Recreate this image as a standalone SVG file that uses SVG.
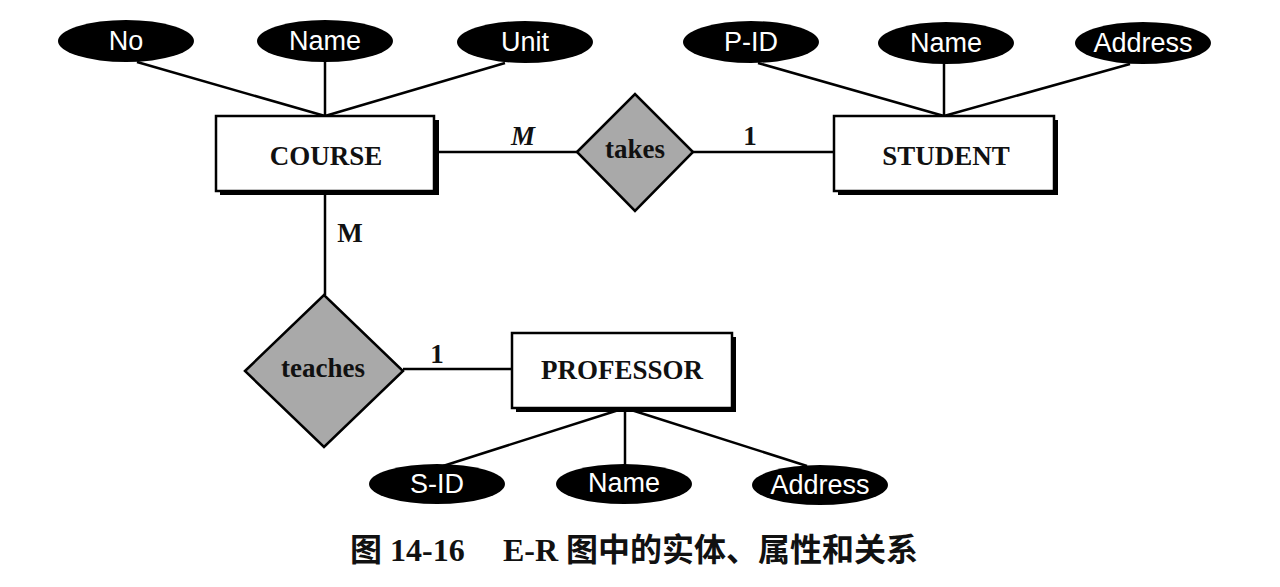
<svg xmlns="http://www.w3.org/2000/svg" width="1280" height="587" viewBox="0 0 1280 587">
<style>
.attr ellipse{fill:#000;}
.attr text{fill:#fff;font-family:"Liberation Sans",Arial,sans-serif;font-size:27px;text-anchor:middle;}
.ent .sh{fill:#000;}
.ent .bx{fill:#fff;stroke:#000;stroke-width:2.5;}
.ent text{font-family:"Liberation Serif","Times New Roman",serif;font-weight:bold;font-size:27px;text-anchor:middle;fill:#111;}
.rel polygon{fill:#a9a9a9;stroke:#000;stroke-width:2.5;stroke-linejoin:miter;}
.rel text{font-family:"Liberation Serif","Times New Roman",serif;font-weight:bold;font-size:27px;text-anchor:middle;fill:#111;}
#connectors line{stroke:#000;stroke-width:2.5;}
.card{font-family:"Liberation Serif","Times New Roman",serif;font-size:27px;font-weight:bold;text-anchor:middle;fill:#111;}
.caption{font-family:"Liberation Serif","Noto Sans CJK SC",serif;font-weight:bold;font-size:32px;fill:#111;}
</style>
<rect width="1280" height="587" fill="#fff"/>
<g id="connectors">
<line x1="137" y1="62" x2="325" y2="116"/>
<line x1="325" y1="62" x2="325" y2="116"/>
<line x1="505" y1="63" x2="325" y2="116"/>
<line x1="758" y1="63" x2="944" y2="116"/>
<line x1="944" y1="63" x2="944" y2="116"/>
<line x1="1130" y1="64" x2="944" y2="116"/>
<line x1="434" y1="152" x2="577" y2="152"/>
<line x1="693" y1="152" x2="834" y2="152"/>
<line x1="325" y1="191" x2="325" y2="295"/>
<line x1="403" y1="369" x2="512" y2="369"/>
<line x1="625" y1="408" x2="443" y2="466"/>
<line x1="625" y1="408" x2="625" y2="465"/>
<line x1="625" y1="408" x2="807" y2="466"/>
<text class="card" x="523" y="145" font-style="italic">M</text>
<text class="card" x="750" y="145">1</text>
<text class="card" x="350" y="242">M</text>
<text class="card" x="437" y="363">1</text>
</g>
<g id="attr-course-no" class="attr"><ellipse cx="126" cy="41" rx="68" ry="21"/><text x="126" y="50">No</text></g>
<g id="attr-course-name" class="attr"><ellipse cx="325" cy="41" rx="68" ry="21"/><text x="325" y="50">Name</text></g>
<g id="attr-course-unit" class="attr"><ellipse cx="525" cy="42" rx="68" ry="21"/><text x="525" y="51">Unit</text></g>
<g id="attr-student-pid" class="attr"><ellipse cx="751" cy="42" rx="68" ry="21"/><text x="751" y="51">P-ID</text></g>
<g id="attr-student-name" class="attr"><ellipse cx="946" cy="43" rx="68" ry="21"/><text x="946" y="52">Name</text></g>
<g id="attr-student-address" class="attr"><ellipse cx="1143" cy="43" rx="68" ry="21"/><text x="1143" y="52">Address</text></g>
<g id="attr-prof-sid" class="attr"><ellipse cx="437" cy="484" rx="68" ry="20"/><text x="437" y="493">S-ID</text></g>
<g id="attr-prof-name" class="attr"><ellipse cx="624" cy="484" rx="68" ry="20"/><text x="624" y="492">Name</text></g>
<g id="attr-prof-address" class="attr"><ellipse cx="820" cy="485" rx="68" ry="20"/><text x="820" y="494">Address</text></g>
<g id="course" class="ent"><rect class="sh" x="220" y="120" width="219" height="75"/><rect class="bx" x="216" y="116" width="218" height="75"/><text x="326" y="165">COURSE</text></g>
<g id="student" class="ent"><rect class="sh" x="838" y="120" width="220" height="75"/><rect class="bx" x="834" y="116" width="220" height="75"/><text x="946" y="165">STUDENT</text></g>
<g id="professor" class="ent"><rect class="sh" x="516" y="337" width="220" height="75"/><rect class="bx" x="512" y="333" width="220" height="75"/><text x="622" y="379">PROFESSOR</text></g>
<g id="takes" class="rel"><polygon points="577,152 635,94 693,152 635,211"/><text x="635" y="158">takes</text></g>
<g id="teaches" class="rel"><polygon points="245,371 324,295 403,371 324,447"/><text x="323" y="377">teaches</text></g>
<text class="caption" x="350" y="561">图 14-16<tspan x="503">E-R 图中的实体、属性和关系</tspan></text>
</svg>
